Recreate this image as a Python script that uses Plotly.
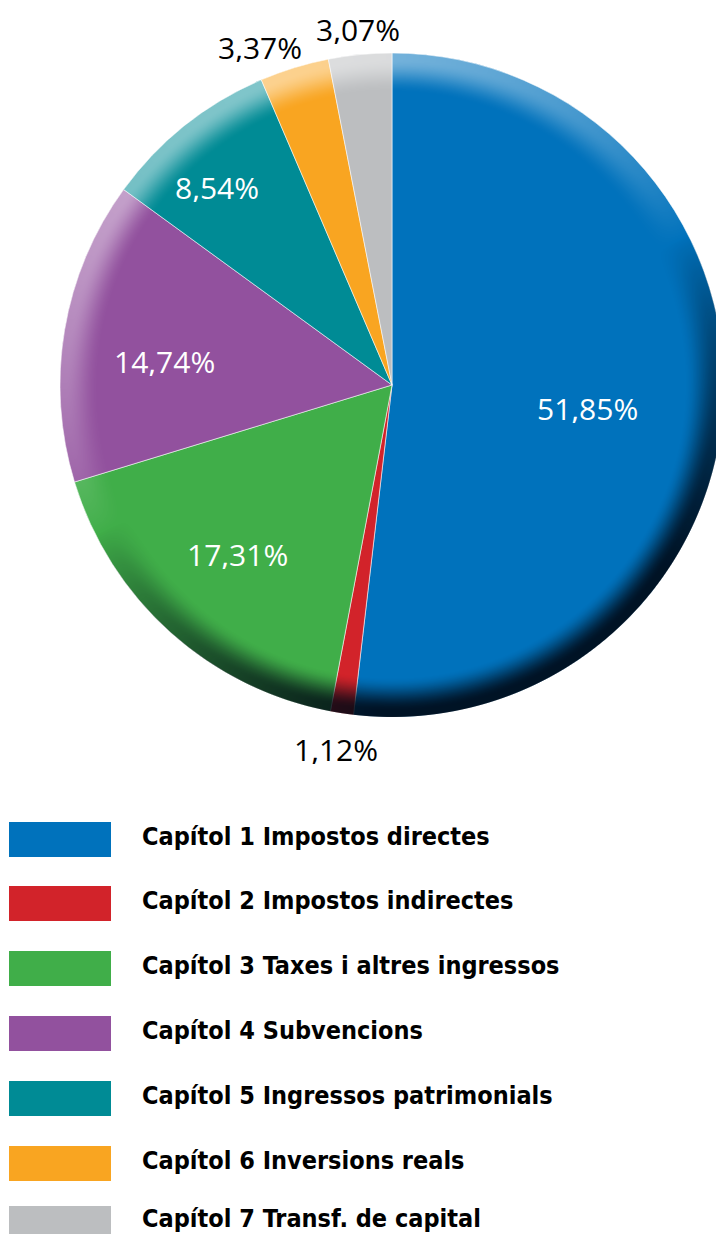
import math, zlib, struct, base64
import numpy as np
import plotly.graph_objects as go

categories = [
    "Capítol 1 Impostos directes",
    "Capítol 2 Impostos indirectes",
    "Capítol 3 Taxes i altres ingressos",
    "Capítol 4 Subvencions",
    "Capítol 5 Ingressos patrimonials",
    "Capítol 6 Inversions reals",
    "Capítol 7 Transf. de capital",
]
values = [51.85, 1.12, 17.31, 14.74, 8.54, 3.37, 3.07]
value_labels = ["51,85%", "1,12%", "17,31%", "14,74%", "8,54%", "3,37%", "3,07%"]
colors = ["#0072BC", "#D2232A", "#40AE49", "#92519E", "#008B95", "#F9A521", "#BCBEC0"]

# label styling: radial distance (fraction of radius), angular nudge (deg), colour
label_radius = [0.592, 1.11, 0.69, 0.69, 0.795, 1.093, 1.076]
label_nudge = [3.4, 0.0, 0.5, -3.5, -2.9, -4.2, 0.0]
label_color = ["white", "black", "white", "white", "white", "black", "black"]

OFF = 8  # page body margin
PW, PH = 724, 1234
W, H = PW - OFF, PH - OFF


def px_x(x):  # page pixel -> paper x
    return (x - OFF) / W


def px_y(y):  # page pixel -> paper y
    return 1 - (y - OFF) / H


dom_x = [px_x(60), 1.0]
dom_y = [px_y(718), px_y(52)]

dw = (dom_x[1] - dom_x[0]) * W
dh = (dom_y[1] - dom_y[0]) * H
R = min(dw, dh) / 2
cx = OFF + (dom_x[0] + dom_x[1]) / 2 * W
cy = OFF + (1 - (dom_y[0] + dom_y[1]) / 2) * H

fig = go.Figure()
fig.add_trace(go.Pie(
    labels=categories,
    values=values,
    text=value_labels,
    textinfo="none",
    marker=dict(colors=colors, line=dict(color="rgba(255,255,255,0.55)", width=1)),
    sort=False,
    direction="clockwise",
    rotation=0,
    showlegend=False,
    domain=dict(x=dom_x, y=dom_y),
    hoverinfo="label+text",
))

total = sum(values)
cum = 0.0
for v, lab, rf, nd, col in zip(values, value_labels, label_radius, label_nudge, label_color):
    mid = (cum + v / 2) / total * 2 * math.pi + math.radians(nd)
    cum += v
    x = cx + rf * R * math.sin(mid)
    y = cy - rf * R * math.cos(mid)
    fig.add_annotation(xref="paper", yref="paper", x=px_x(x), y=px_y(y),
                       text=lab, showarrow=False, xanchor="center", yanchor="middle",
                       height=30, valign="middle", borderpad=0,
                       font=dict(family="Open Sans, Lato, sans-serif", size=30, color=col))

# 3D rim shading overlay
N = int(round(2 * R)) + 2
yy, xx = np.mgrid[0:N, 0:N].astype(float)
c = (N - 1) / 2
dx, dy = xx - c, yy - c
dist = np.sqrt(dx ** 2 + dy ** 2) + 1e-9
edge = R - dist
cover = np.clip(edge + 0.5, 0, 1)
u = np.clip((edge - 6.0) / 34.0, 0, 1)
t = 1 - u * u * (3 - 2 * u)
L = np.array([-0.45, -0.89])
s = (dx / dist) * L[0] + (dy / dist) * L[1]
light_a = np.clip(s, 0, None) ** 0.8 * t * 0.5
dark_a = np.clip(-s * 1.15, 0, 1) ** 0.8 * t * 0.9
rgba = np.zeros((N, N, 4), dtype=np.uint8)
a = np.where(s >= 0, light_a, dark_a) * cover
rgba[..., 0] = np.where(s >= 0, 255, 0)
rgba[..., 1] = np.where(s >= 0, 255, 8)
rgba[..., 2] = np.where(s >= 0, 255, 20)
rgba[..., 3] = np.clip(a * 255, 0, 255).astype(np.uint8)


def png_bytes(arr):
    h, w, _ = arr.shape
    raw = b"".join(b"\x00" + arr[i].tobytes() for i in range(h))

    def chunk(tag, data):
        return struct.pack(">I", len(data)) + tag + data + struct.pack(">I", zlib.crc32(tag + data) & 0xffffffff)
    return (b"\x89PNG\r\n\x1a\n" + chunk(b"IHDR", struct.pack(">IIBBBBB", w, h, 8, 6, 0, 0, 0))
            + chunk(b"IDAT", zlib.compress(raw, 9)) + chunk(b"IEND", b""))


src = "data:image/png;base64," + base64.b64encode(png_bytes(rgba)).decode()
fig.add_layout_image(dict(source=src, xref="paper", yref="paper",
                          x=px_x(cx - N / 2), y=px_y(cy - N / 2),
                          sizex=N / W, sizey=N / H, sizing="stretch",
                          xanchor="left", yanchor="top", layer="above"))

# Legend drawn as layout decorations
tops = [822, 886, 951, 1016, 1081, 1146, 1206]
text_cy = [836, 900, 965, 1030, 1095, 1160, 1218]
for cat, col, top, tcy in zip(categories, colors, tops, text_cy):
    fig.add_shape(type="rect", xref="paper", yref="paper",
                  x0=px_x(9), x1=px_x(111), y0=px_y(top + 35), y1=px_y(top),
                  fillcolor=col, line=dict(width=0))
    fig.add_annotation(xref="paper", yref="paper", x=px_x(140), y=px_y(tcy),
                       xanchor="left", yanchor="middle", text="<b>" + cat + "</b>", showarrow=False,
                       font=dict(family="Liberation Sans Narrow, DejaVu Sans Condensed, sans-serif",
                                 size=25, color="black"))

fig.update_layout(
    width=W, height=H,
    margin=dict(l=0, r=0, t=0, b=0),
    paper_bgcolor="white", plot_bgcolor="white",
)
fig.write_html("out.html")
